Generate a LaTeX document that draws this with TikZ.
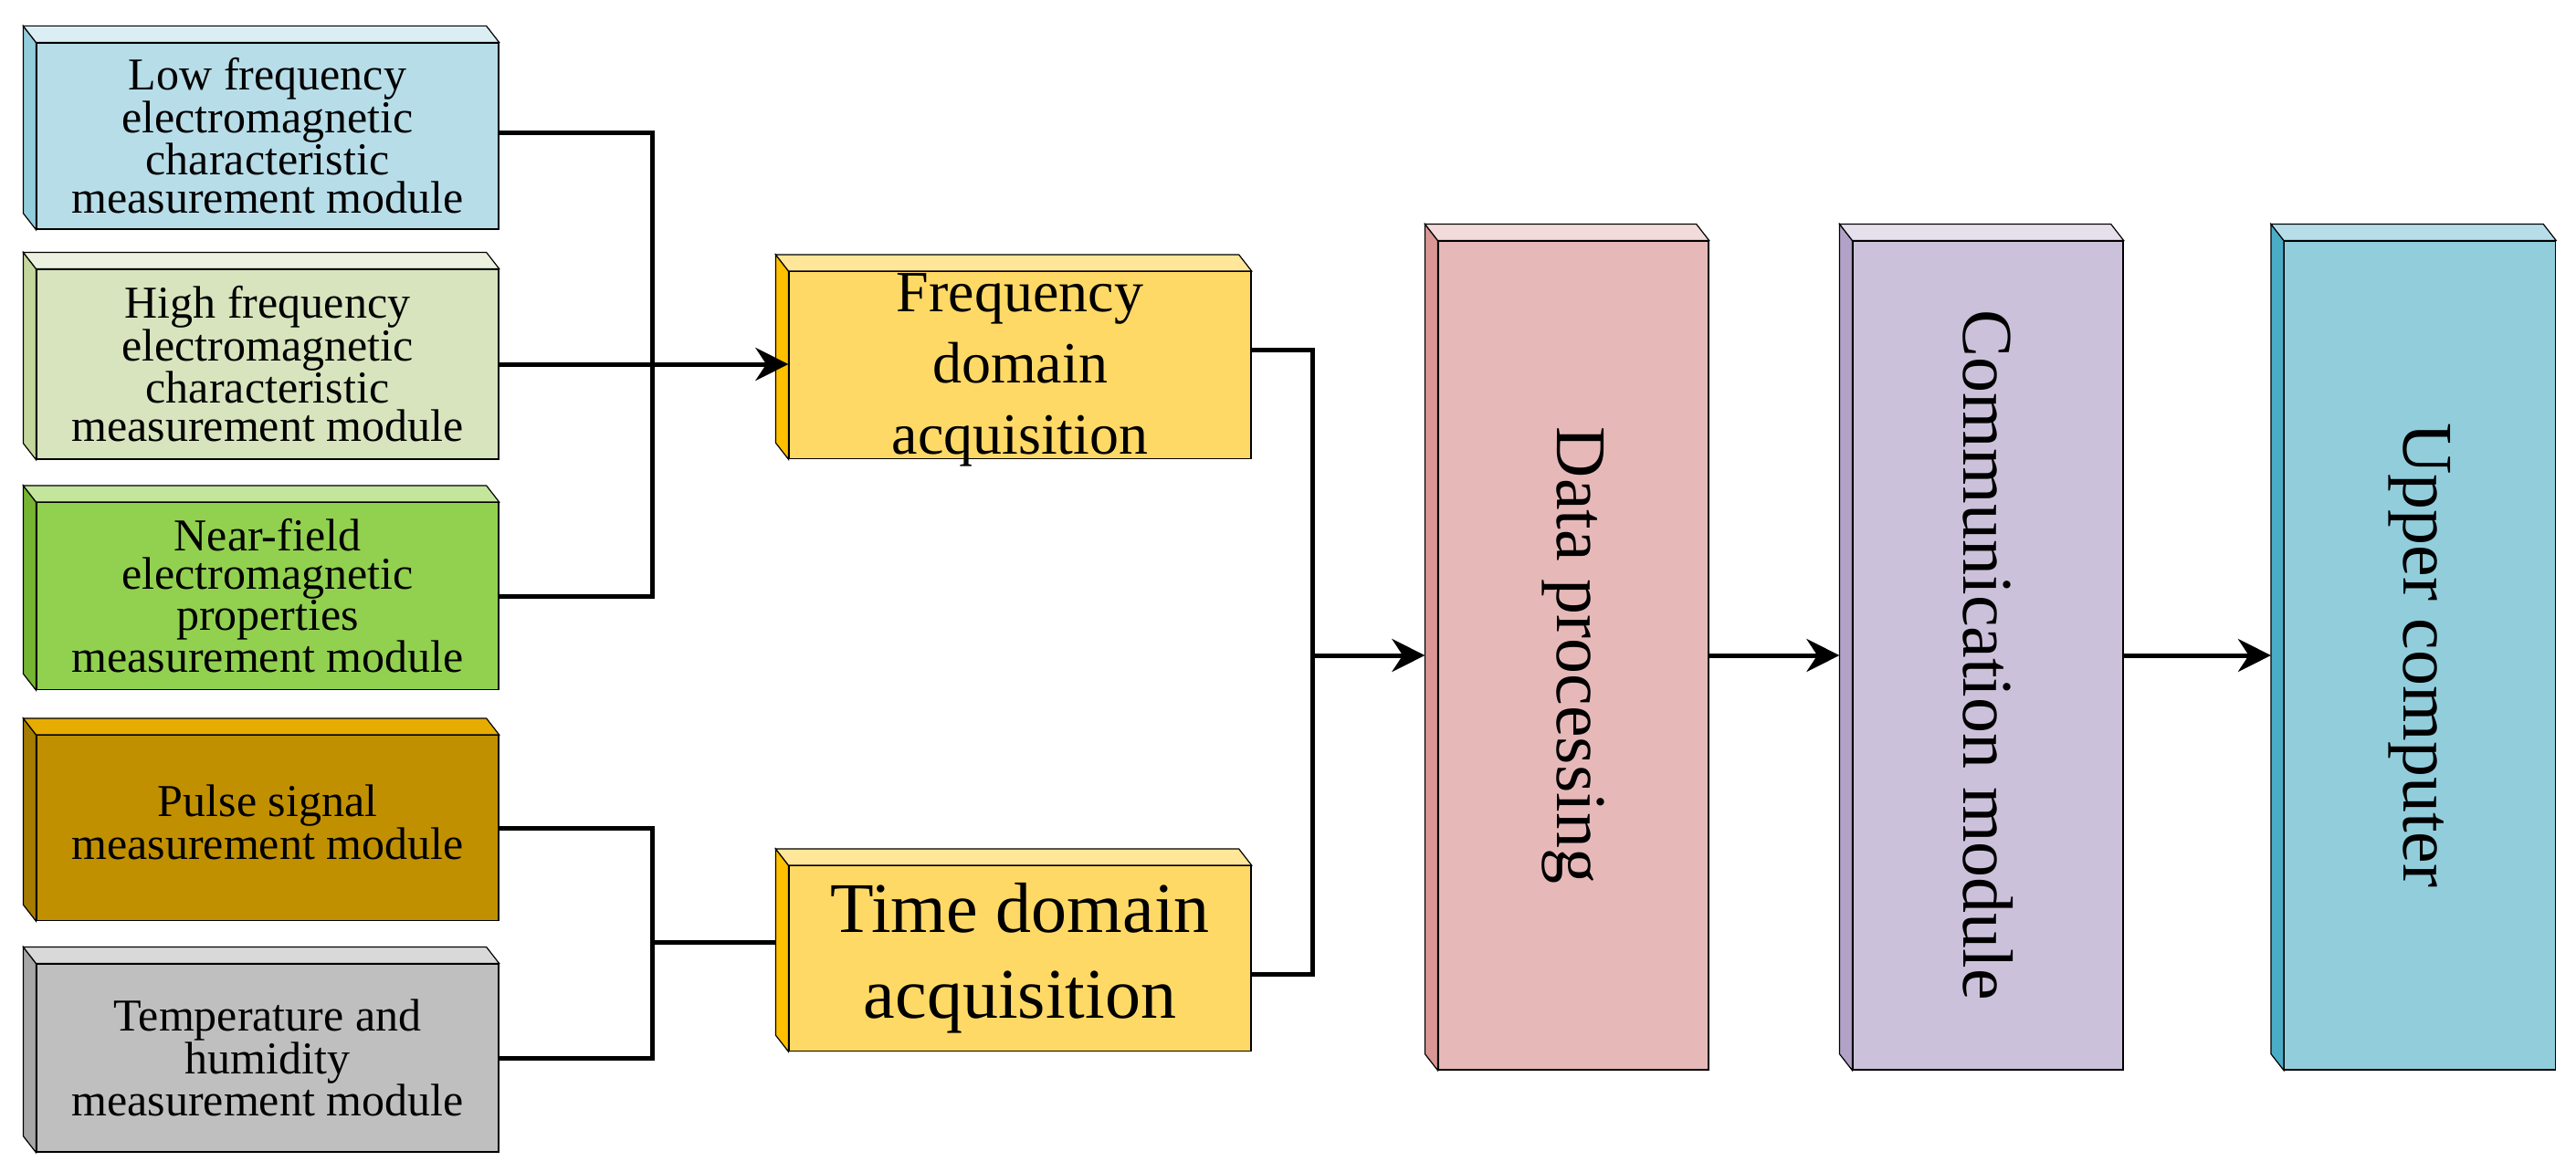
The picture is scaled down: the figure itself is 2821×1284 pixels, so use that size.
\documentclass[tikz,border=0pt]{standalone}
\usepackage{fontspec}
\setmainfont{Liberation Serif}
\usetikzlibrary{arrows.meta}
\begin{document}
\begin{tikzpicture}[x=1pt,y=-1pt,
  blk/.style={draw,line width=1.2pt,align=center,inner sep=0pt},
  sm/.style={font=\fontsize{50}{42}\selectfont},
  md/.style={font=\fontsize{64}{78}\selectfont},
  lg/.style={font=\fontsize{78}{94}\selectfont},
  vt/.style={font=\fontsize{78}{90}\selectfont,rotate=-90},
  wire/.style={line width=5pt},
  arr/.style={line width=5pt,-{Stealth[length=36pt,width=36pt]}}]
\useasboundingbox (0,0) rectangle (2821,1284);
\newcommand\cube[9]{%
 \definecolor{#1F}{HTML}{#6}\definecolor{#1S}{HTML}{#7}\definecolor{#1T}{HTML}{#8}%
 \node[blk,fill=#1F,minimum width=#4pt,minimum height=#5pt,#9] (#1) at (#2,#3) {};
 \draw[line width=1.2pt,fill=#1S] (#1.north west) -- ([shift={(-14,-18)}]#1.north west) -- ([shift={(-14,-18)}]#1.south west) -- (#1.south west) -- cycle;
 \draw[line width=1.2pt,fill=#1T] (#1.north west) -- ([shift={(-14,-18)}]#1.north west) -- ([shift={(-14,-18)}]#1.north east) -- (#1.north east) -- cycle;}
% boxes
\cube{a}{293}{149}{506}{204}{B7DDE8}{92CDDC}{DAEEF3}{}
\cube{b}{293}{399}{506}{208}{D7E4BD}{C3D69B}{EBF1DE}{}
\cube{c}{293}{653}{506}{205}{92D050}{76B531}{C4E59C}{}
\cube{d}{293}{907}{506}{203}{C09000}{A67C00}{E6AC00}{}
\cube{e}{293}{1159}{506}{206}{BFBFBF}{A6A6A6}{D9D9D9}{}
\cube{f}{1117}{400}{506}{205}{FFD966}{FFC000}{FFE699}{}
\cube{t}{1117}{1050}{506}{203}{FFD966}{FFC000}{FFE699}{}
\cube{p}{1723}{718}{296}{908}{E6B9B8}{D99694}{F2DCDB}{}
\cube{m}{2177}{718}{296}{908}{CCC1DA}{B3A2C7}{E5E0EC}{}
\cube{u}{2650}{718}{297}{908}{92CDDC}{4BACC6}{B7DEE8}{}
\node[sm,align=center] at (a) {Low frequency\\electromagnetic\\characteristic\\measurement module};
\node[sm,align=center] at (b) {High frequency\\electromagnetic\\characteristic\\measurement module};
\node[sm,align=center] at (c) {Near-field\\electromagnetic\\properties\\measurement module};
\node[sm,align=center] at ([yshift=6]d) {Pulse signal\\measurement module};
\node[sm,align=center] at (e) {Temperature and\\humidity\\measurement module};
\node[md,align=center] at ([yshift=-5]f) {Frequency\\domain\\acquisition};
\node[lg,align=center] at (t) {Time domain\\acquisition};
\node[vt] at (p) {Data processing};
\node[vt] at (m) {Communication module};
\node[vt] at (u) {Upper computer};
% connectors
\coordinate (j1) at (714,146);
\coordinate (j3) at (714,653);
\draw[wire] (a.east |- j1) -- (j1) -- (j3) -- (c.east |- j3);
\draw[arr] (b.east) -- (f.west |- b.east);
\coordinate (k1) at (714,907);
\coordinate (k2) at (714,1159);
\coordinate (k3) at (714,1032);
\draw[wire] (d.east) -- (k1) -- (k2) -- (e.east);
\draw[wire] (k3) -- ([xshift=-14]t.west |- k3);
\coordinate (r1) at (1437,383);
\coordinate (r2) at (1437,1067);
\coordinate (r3) at (1437,718);
\draw[wire] (f.east |- r1) -- (r1) -- (r2) -- (t.east |- r2);
\draw[arr] (r3) -- ([xshift=-14]p.west);
\draw[arr] (p.east) -- ([xshift=-14]m.west);
\draw[arr] (m.east) -- ([xshift=-14]u.west);
\end{tikzpicture}
\end{document}
